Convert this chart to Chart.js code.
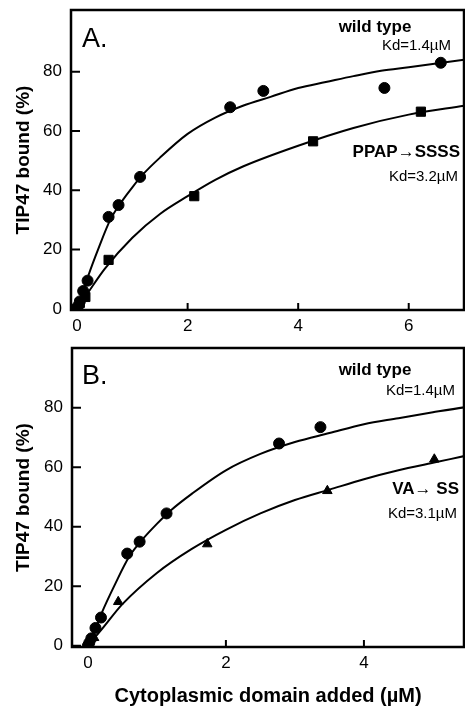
<!DOCTYPE html>
<html>
<head>
<meta charset="utf-8">
<script src="https://cdn.jsdelivr.net/npm/chart.js@4.4.1/dist/chart.umd.min.js"></script>
<style>
  body { margin: 0; background: #fff; }
  canvas { display: block; }
</style>
</head>
<body>
<canvas id="chartA" width="465" height="340"></canvas>
<canvas id="chartB" width="465" height="366"></canvas>
<script>
// binding data (x in uM, y in % bound)
var wtX = [0, 0.02, 0.05, 0.11, 0.19, 0.57, 0.75, 1.14, 2.77, 3.37, 5.56, 6.58];
var wtY = [0, 1, 2.5, 6, 9.5, 31, 35, 44.5, 68, 73.5, 74.5, 83];

var ppapX = [0, 0.05, 0.15, 0.57, 2.12, 4.27, 6.22];
var ppapY = [0, 2, 4, 16.5, 38, 56.5, 66.5];

var vaX = [0, 0.09, 0.44, 1.73, 3.47, 5.02];
var vaY = [0, 2.7, 14.8, 34.2, 52.1, 62.7];

// fitted curves
var wtCurveX = [0, 0.1, 0.2, 0.4, 0.6, 0.8, 1.0, 1.2, 1.5, 2, 2.5, 3, 3.5, 4, 4.5, 5, 5.5, 6, 7];
var wtCurveY = [0, 5, 11, 21, 30, 36, 41, 45.5, 51, 59, 64.5, 68.5, 71.5, 74.5, 76.5, 78.5, 80.3, 81.5, 84];

var ppapCurveX = [0, 0.2, 0.5, 1, 1.5, 2, 2.5, 3, 4, 5, 6, 7];
var ppapCurveY = [0, 5.5, 13.5, 24, 32, 38, 43.5, 48, 55, 61, 65.5, 68.5];

var vaCurveX = [0, 0.2, 0.5, 1, 1.5, 2, 2.5, 3, 3.5, 4, 4.5, 5, 5.5];
var vaCurveY = [0, 5.5, 14, 24.5, 32.5, 39, 44.5, 49, 52.5, 56, 59, 61.5, 64];

var yTicks = [0, 20, 40, 60, 80];
var xTicksA = [0, 2, 4, 6];
var xTicksB = [0, 2, 4];

var FONT = "'Liberation Sans', Arial, Helvetica, sans-serif";

function pts(xs, ys) {
  return xs.map((x, i) => ({ x: x, y: ys[i] }));
}

// no extra room for edge labels, the plot box is fixed
function noPad(s) {
  s.paddingTop = 0; s.paddingBottom = 0;
  s.paddingLeft = 0; s.paddingRight = 0;
}

// frame, inward ticks and the text notes
var frameTicks = {
  id: 'frameTicks',
  afterDraw(chart, args, opts) {
    var ctx = chart.ctx, a = chart.chartArea;
    var xs = chart.scales.x, ys = chart.scales.y;
    ctx.save();
    ctx.strokeStyle = '#000';
    ctx.lineWidth = 2.5;
    ctx.strokeRect(a.left, a.top, a.right - a.left, a.bottom - a.top);
    ctx.lineWidth = 2;
    ctx.beginPath();
    ys.ticks.forEach(t => {
      var y = ys.getPixelForValue(t.value);
      ctx.moveTo(a.left, y); ctx.lineTo(a.left + 9, y);
    });
    xs.ticks.forEach(t => {
      var x = xs.getPixelForValue(t.value);
      ctx.moveTo(x, a.bottom); ctx.lineTo(x, a.bottom - 7);
    });
    ctx.stroke();

    ctx.fillStyle = '#000';
    (opts.notes || []).forEach(n => {
      ctx.font = n.font;
      ctx.textAlign = n.align;
      ctx.textBaseline = 'alphabetic';
      ctx.fillText(n.text, n.x, n.y);
    });
    ctx.restore();
  }
};

function makeChart(id, cfg) {
  var datasets = [
    { data: pts(wtX, wtY), showLine: false, pointStyle: 'circle', pointRadius: 5.5,
      backgroundColor: '#000', borderColor: '#000' },
    { data: pts(cfg.mutX, cfg.mutY), showLine: false, pointStyle: cfg.mutStyle, pointRadius: cfg.mutRadius,
      backgroundColor: '#000', borderColor: '#000' },
    { data: pts(wtCurveX, wtCurveY), showLine: true, pointRadius: 0, borderColor: '#000',
      borderWidth: 2, cubicInterpolationMode: 'monotone' },
    { data: pts(cfg.curveX, cfg.curveY), showLine: true, pointRadius: 0, borderColor: '#000',
      borderWidth: 2, cubicInterpolationMode: 'monotone' }
  ];

  return new Chart(document.getElementById(id), {
    type: 'scatter',
    data: { datasets: datasets },
    options: {
      responsive: false,
      animation: false,
      layout: { autoPadding: false, padding: { top: cfg.padTop, right: 1, left: 0, bottom: 0 } },
      plugins: {
        legend: { display: false },
        tooltip: { enabled: false },
        frameTicks: { notes: cfg.notes }
      },
      scales: {
        x: {
          type: 'linear',
          min: cfg.xMin, max: cfg.xMax,
          grid: { display: false, drawTicks: false },
          border: { display: false },
          afterBuildTicks: s => { s.ticks = cfg.xTicks.map(v => ({ value: v })); },
          afterFit: s => { s.height = cfg.xHeight; noPad(s); },
          ticks: { color: '#000', font: { family: FONT, size: 17 }, padding: 6, maxRotation: 0 },
          title: {
            display: cfg.xTitle,
            text: 'Cytoplasmic domain added (\u00b5M)',
            color: '#000',
            font: { family: FONT, size: 20, weight: 'bold', lineHeight: 1 },
            padding: { top: 0, bottom: 0 }
          }
        },
        y: {
          type: 'linear',
          min: cfg.yMin, max: cfg.yMax,
          grid: { display: false, drawTicks: false },
          border: { display: false },
          afterBuildTicks: s => { s.ticks = yTicks.map(v => ({ value: v })); },
          afterFit: s => { s.width = cfg.yWidth; noPad(s); },
          ticks: { color: '#000', font: { family: FONT, size: 17 }, padding: 9 },
          title: {
            display: true,
            text: 'TIP47 bound (%)',
            color: '#000',
            font: { family: FONT, size: 19, weight: 'bold', lineHeight: 1 },
            padding: { top: 14, bottom: 0 }
          }
        }
      }
    },
    plugins: [frameTicks]
  });
}

var bold17 = 'bold 17px ' + FONT;
var reg15 = '15px ' + FONT;
var big = '27px ' + FONT;

makeChart('chartA', {
  mutX: ppapX, mutY: ppapY, mutStyle: 'rect', mutRadius: 6.5,
  curveX: ppapCurveX, curveY: ppapCurveY,
  xMin: -0.11, xMax: 7.0, yMin: -0.4, yMax: 100.8,
  xTicks: xTicksA, xTitle: false,
  padTop: 10, xHeight: 30, yWidth: 71,
  notes: [
    { text: 'A.', x: 82, y: 47, align: 'left', font: big },
    { text: 'wild type', x: 375, y: 32, align: 'center', font: bold17 },
    { text: 'Kd=1.4\u00b5M', x: 451, y: 50, align: 'right', font: reg15 },
    { text: 'PPAP\u2192SSSS', x: 460, y: 157, align: 'right', font: bold17 },
    { text: 'Kd=3.2\u00b5M', x: 458, y: 181, align: 'right', font: reg15 }
  ]
});

makeChart('chartB', {
  mutX: vaX, mutY: vaY, mutStyle: 'triangle', mutRadius: 5.5,
  curveX: vaCurveX, curveY: vaCurveY,
  xMin: -0.23, xMax: 5.45, yMin: -0.4, yMax: 100.1,
  xTicks: xTicksB, xTitle: true,
  padTop: 8, xHeight: 59, yWidth: 72,
  notes: [
    { text: 'B.', x: 82, y: 44, align: 'left', font: big },
    { text: 'wild type', x: 375, y: 35, align: 'center', font: bold17 },
    { text: 'Kd=1.4\u00b5M', x: 455, y: 55, align: 'right', font: reg15 },
    { text: 'VA\u2192 SS', x: 459, y: 154, align: 'right', font: bold17 },
    { text: 'Kd=3.1\u00b5M', x: 457, y: 178, align: 'right', font: reg15 }
  ]
});
</script>
</body>
</html>
